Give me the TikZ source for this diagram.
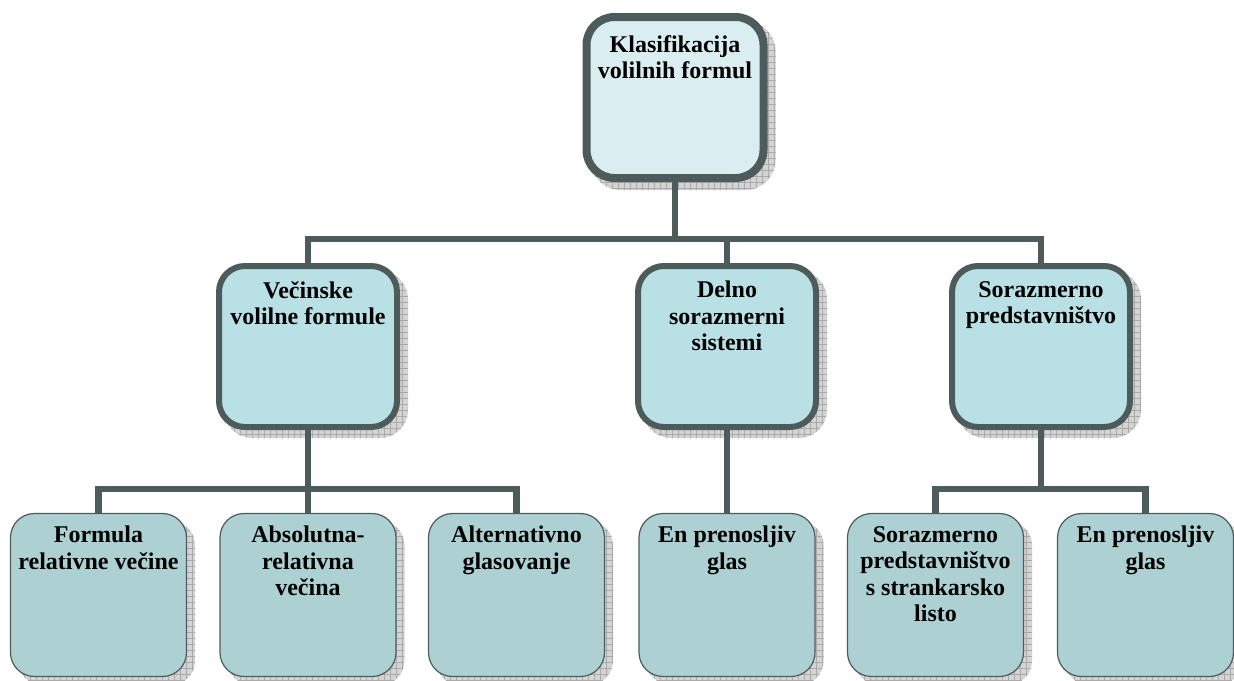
\documentclass[tikz,border=0pt]{standalone}
\usepackage{fontspec}
\setmainfont{Liberation Serif}
\usetikzlibrary{patterns.meta}
\definecolor{bord}{RGB}{77,91,91}
\definecolor{topfill}{RGB}{218,238,241}
\definecolor{midfill}{RGB}{185,224,228}
\definecolor{botfill}{RGB}{173,208,210}
\definecolor{shadfill}{RGB}{212,212,212}
\definecolor{shadline}{RGB}{170,170,170}
\pgfdeclarelayer{shadowlayer}
\pgfdeclarelayer{connlayer}
\pgfsetlayers{shadowlayer,connlayer,main}
\tikzset{
  topbox/.style={rectangle, draw=bord, line width=8pt, fill=topfill, rounded corners=28pt,
    minimum width=177pt, minimum height=161pt, inner sep=0pt},
  midbox/.style={rectangle, draw=bord, line width=6pt, fill=midfill, rounded corners=26pt,
    minimum width=178pt, minimum height=161pt, inner sep=0pt},
  botbox/.style={rectangle, draw=bord, line width=1.2pt, fill=botfill, rounded corners=24pt,
    minimum width=176pt, minimum height=163pt, inner sep=0pt},
  shad/.style={rectangle, draw=none, fill=shadfill, inner sep=0pt,
    postaction={pattern={Lines[angle=0,distance=6pt,line width=0.5pt]}, pattern color=shadline},
    postaction={pattern={Lines[angle=90,distance=6pt,line width=0.5pt]}, pattern color=shadline}},
  topshad/.style={shad, rounded corners=30pt, minimum width=185pt, minimum height=169pt},
  midshad/.style={shad, rounded corners=28pt, minimum width=184pt, minimum height=167pt},
  botshad/.style={shad, rounded corners=24pt, minimum width=177pt, minimum height=164pt},
  conn/.style={draw=bord, line width=6.5pt},
  txt/.style={anchor=north, align=center, inner sep=0pt,
    font=\fontsize{24}{26.5}\selectfont\bfseries, text=black},
}
\begin{document}
\begin{tikzpicture}[x=1pt,y=-1pt]
\useasboundingbox (0,0) rectangle (1234,680);
% boxes
\node[topbox] (top) at (675,97.5) {};
\node[midbox] (vec) at (308,346.5) {};
\node[midbox] (del) at (727,346.5) {};
\node[midbox] (sor) at (1041,346.5) {};
\node[botbox] (b1) at (98.5,595) {};
\node[botbox] (b2) at (308,595) {};
\node[botbox] (b3) at (516.5,595) {};
\node[botbox] (b4) at (727,595) {};
\node[botbox] (b5) at (935.5,595) {};
\node[botbox] (b6) at (1145.5,595) {};
% shadows
\begin{pgfonlayer}{shadowlayer}
\node[topshad] (stop) at (683,105.5) {};
\node[midshad] (svec) at (316,354.5) {};
\node[midshad] (sdel) at (735,354.5) {};
\node[midshad] (ssor) at (1049,354.5) {};
\node[botshad] (sb1) at (106.5,603) {};
\node[botshad] (sb2) at (316,603) {};
\node[botshad] (sb3) at (524.5,603) {};
\node[botshad] (sb4) at (735,603) {};
\node[botshad] (sb5) at (943.5,603) {};
\node[botshad] (sb6) at (1153.5,603) {};
\end{pgfonlayer}
% connectors
\begin{pgfonlayer}{connlayer}
\coordinate (j1) at (675,239);
\coordinate (j2) at (308,489);
\coordinate (j3) at (1041,489);
\draw[conn] (top.south) -- (j1);
\draw[conn] (vec.north) |- (j1) -| (sor.north);
\draw[conn] (del.north) -- (del.north |- j1);
\draw[conn] (vec.south) -- (j2);
\draw[conn] (b1.north) |- (j2) -| (b3.north);
\draw[conn] (b2.north) -- (j2);
\draw[conn] (del.south) -- (b4.north);
\draw[conn] (sor.south) -- (j3);
\draw[conn] (b5.north) |- (j3) -| (b6.north);
\end{pgfonlayer}
% texts
\node[txt] (t0) at (675,35) {Klasifikacija\\volilnih formul};
\node[txt] (t1) at (308,281) {Večinske\\volilne formule};
\node[txt] (t2) at (727,281) {Delno\\sorazmerni\\sistemi};
\node[txt] (t3) at (1041,281) {Sorazmerno\\predstavništvo};
\node[txt] (t4) at (98.5,526) {Formula\\relativne večine};
\node[txt] (t5) at (308,526) {Absolutna-\\relativna\\večina};
\node[txt] (t6) at (516.5,526) {Alternativno\\glasovanje};
\node[txt] (t7) at (727,526) {En prenosljiv\\glas};
\node[txt] (t8) at (935.5,526) {Sorazmerno\\predstavništvo\\s strankarsko\\listo};
\node[txt] (t9) at (1145.5,526) {En prenosljiv\\glas};
\end{tikzpicture}
\end{document}
